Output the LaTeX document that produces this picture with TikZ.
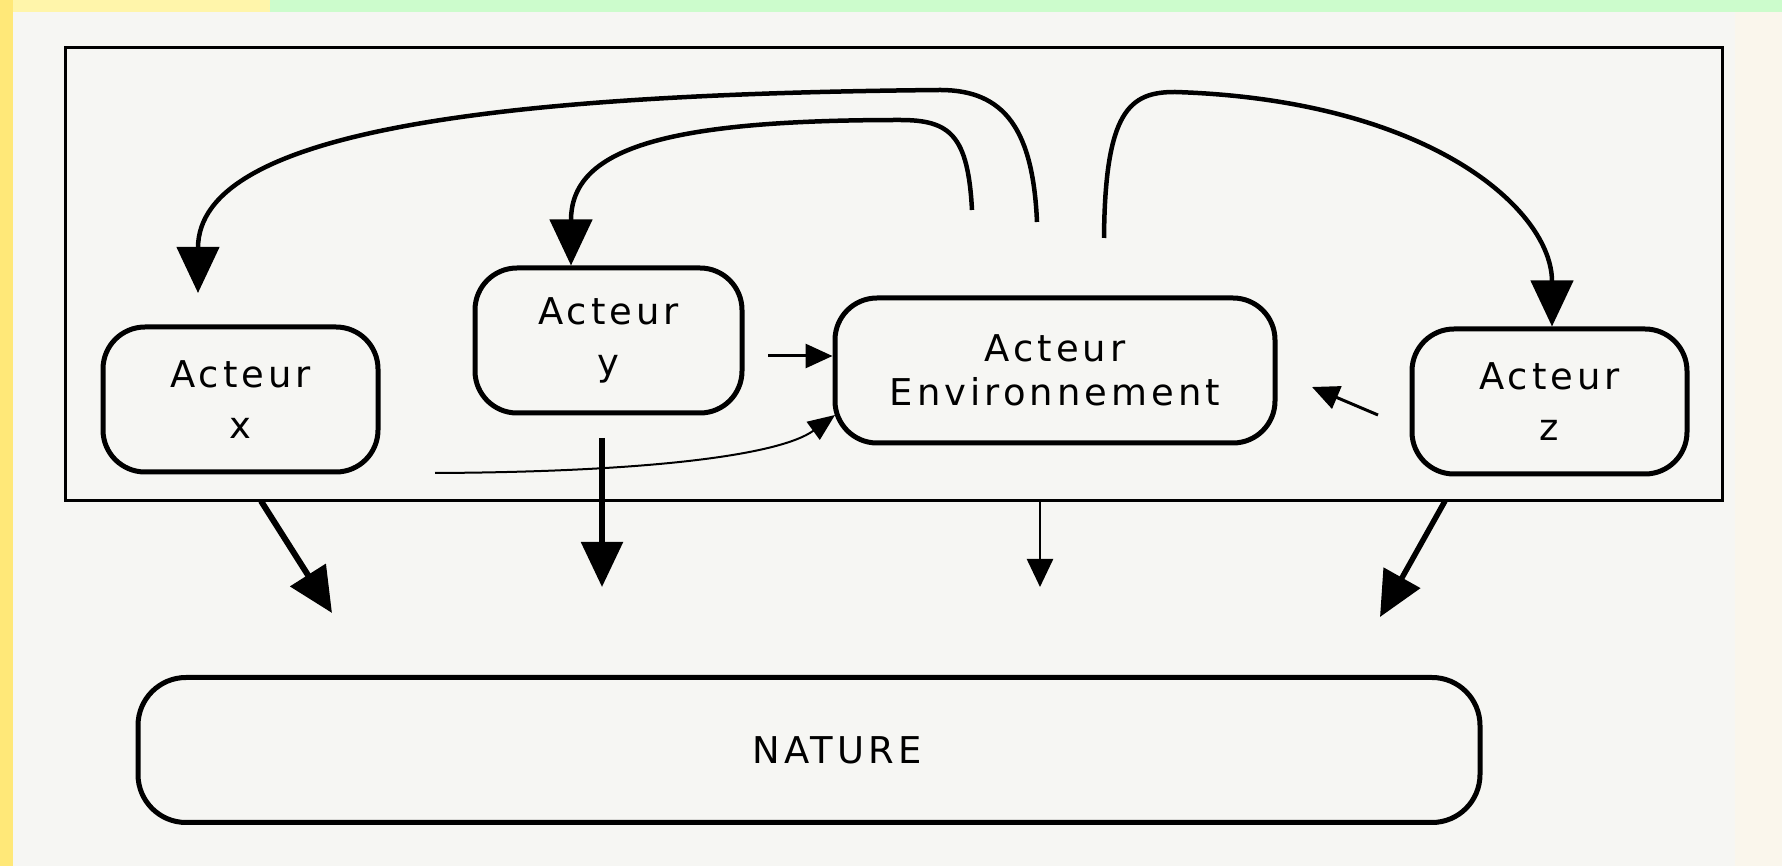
\documentclass[tikz,border=0pt]{standalone}
\usepackage{fontspec}
\setmainfont{DejaVu Sans}[LetterSpace=11]
\usetikzlibrary{arrows.meta}

\newlength{\du}
\setlength{\du}{0.1mm}

\definecolor{papercolor}{RGB}{246,246,243}
\definecolor{creamcolor}{RGB}{250,246,236}
\definecolor{yellowband}{RGB}{255,232,120}
\definecolor{paleyellow}{RGB}{255,245,170}
\definecolor{greenband}{RGB}{204,252,204}

\begin{document}
\begin{tikzpicture}[yscale=-1,
  acteur/.style={draw, line width=5\du, rounded corners=42\du, inner sep=0pt,
    minimum height=145\du, align=center,
    font=\fontsize{10.5}{12.6}\selectfont},
  framebox/.style={draw, line width=3\du, inner sep=0pt, outer sep=0pt},
  bigarrow/.style={line width=4.5\du, -{Triangle[length=4.6mm,width=4.2mm]}},
  downarrow/.style={line width=5.5\du, -{Triangle[length=4.5mm,width=4.1mm]}},
  thinarrow/.style={line width=3\du, -{Triangle[length=2.7mm,width=2.4mm]}},
  thinline/.style={line width=2\du, -{Triangle[length=2.7mm,width=2.2mm]}}]
% paper and scan borders
\useasboundingbox (0,0) rectangle (1782\du,866\du);
\fill[papercolor] (0,0) rectangle (1782\du,866\du);
\fill[creamcolor] (1735\du,0) rectangle (1782\du,866\du);
\fill[yellowband] (0,0) rectangle (13\du,866\du);
\fill[paleyellow] (13\du,0) rectangle (270\du,12\du);
\fill[greenband] (270\du,0) rectangle (1782\du,12\du);
% frame and actors
\node[framebox, minimum width=1657\du, minimum height=453\du] (frame) at (893.5\du,274.5\du) {};
\node[acteur, minimum width=275\du] (actx) at (240.5\du,399.5\du) {Acteur\\[2pt]x};
\node[acteur, minimum width=267\du] (acty) at (608.5\du,340.5\du) {Acteur\\[2pt]y};
\node[acteur, minimum width=440\du] (actenv) at (1055\du,370.5\du) {Acteur\\Environnement};
\node[acteur, minimum width=275\du] (actz) at (1549.5\du,401.5\du) {Acteur\\[2pt]z};
\node[acteur, minimum width=1342\du, rounded corners=48\du] (nature) at (809\du,750\du) {\hspace*{5.6mm}NATURE};
% free ends of the connectors
\coordinate (xstart) at (1037\du,222\du);
\coordinate (xin) at (198\du,293\du);
\coordinate (ystart) at (972\du,210\du);
\coordinate (yin) at (571\du,0);
\coordinate (zstart) at (1104\du,238\du);
\coordinate (zin) at (1552\du,0);
\coordinate (yright) at (768\du,356\du);
\coordinate (curvestart) at (435\du,473\du);
\coordinate (curveend) at (835\du,415\du);
\coordinate (zleft) at (1378\du,415\du);
\coordinate (zleftend) at (1312\du,387\du);
\coordinate (xfoot) at (261\du,0);
\coordinate (xdown) at (332\du,613\du);
\coordinate (yfoot) at (602\du,438\du);
\coordinate (ydown) at (602\du,587\du);
\coordinate (envfoot) at (1040\du,0);
\coordinate (envdown) at (1040\du,587\du);
\coordinate (zfoot) at (1445\du,0);
\coordinate (zdown) at (1380\du,617\du);
% curves over the top
\draw[bigarrow] (xstart) .. controls (1033\du,130\du) and (1005\du,90\du) .. (940\du,90\du)
  .. controls (500\du,94\du) and (198\du,130\du) .. (xin);
\draw[bigarrow] (ystart) .. controls (968\du,135\du) and (950\du,120\du) .. (900\du,120\du)
  .. controls (660\du,120\du) and (571\du,150\du) .. (yin |- acty.north);
\draw[bigarrow] (zstart) .. controls (1105\du,110\du) and (1130\du,92\du) .. (1175\du,92\du)
  .. controls (1430\du,100\du) and (1552\du,210\du) .. (zin |- actz.north);
% arrows into the environment
\draw[thinarrow] (yright) -- (actenv.west |- yright);
\draw[thinline] (curvestart) .. controls (650\du,472\du) and (780\du,455\du) .. (curveend);
\draw[thinarrow] (zleft) -- (zleftend);
% arrows down to nature
\draw[downarrow, line width=6\du] (frame.south -| xfoot) -- (xdown);
\draw[downarrow] (yfoot) -- (ydown);
\draw[line width=2.5\du, -{Triangle[length=2.8mm,width=2.6mm]}] (frame.south -| envfoot) -- (envdown);
\draw[downarrow] (frame.south -| zfoot) -- (zdown);
\end{tikzpicture}
\end{document}
